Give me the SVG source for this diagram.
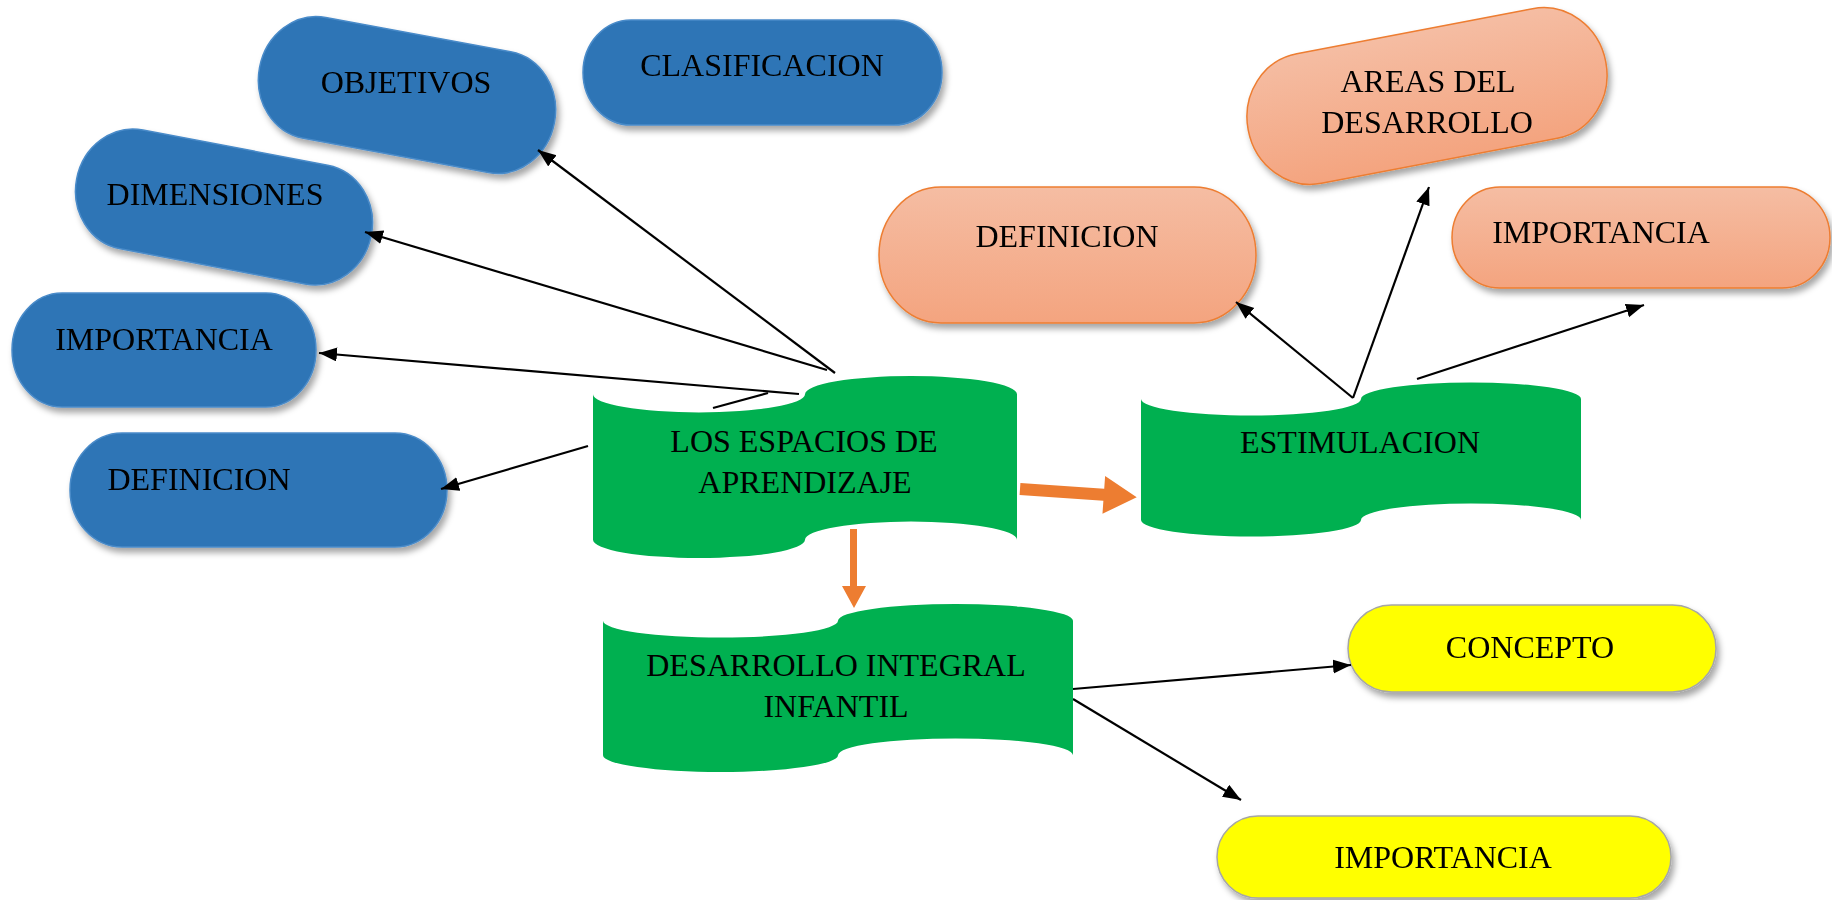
<svg xmlns="http://www.w3.org/2000/svg" width="1832" height="900" viewBox="0 0 1832 900">
<defs>
<style>
text{font-family:"Liberation Serif","Times New Roman",serif;font-size:32px;fill:#000;text-anchor:middle}
.blue{fill:#2E75B6;stroke:#4A8BC9;stroke-width:1.5}
.salmon{fill:url(#sg);stroke:#ED7D31;stroke-width:1.5}
.yellow{fill:#FFFF00;stroke:#A6A6A6;stroke-width:1.5}
.green{fill:#00B050}
.con{stroke:#000;stroke-width:2.2;fill:none}
.arr{marker-end:url(#ah)}
.orange{fill:#ED7D31}
</style>
<linearGradient id="sg" x1="0" y1="0" x2="0" y2="1">
<stop offset="0" stop-color="#F5BDA3"/>
<stop offset="1" stop-color="#F4A47F"/>
</linearGradient>
<filter id="sh" x="-10%" y="-10%" width="130%" height="140%">
<feDropShadow dx="3" dy="5" stdDeviation="3" flood-color="#000" flood-opacity="0.35"/>
</filter>
<marker id="ah" markerUnits="userSpaceOnUse" markerWidth="20" markerHeight="16" refX="18" refY="7" orient="auto">
<path d="M0,0 L18,7 L0,14 Z" fill="#000"/>
</marker>
</defs>

<g id="n-objetivos" filter="url(#sh)">
<rect class="blue" x="-150" y="-61.5" width="300" height="123" rx="56" ry="61.5" transform="translate(407,95) rotate(10.5)"/>
<text x="406" y="93">OBJETIVOS</text>
</g>
<g id="n-clasificacion" filter="url(#sh)">
<rect class="blue" x="583" y="20" width="359" height="105" rx="48" ry="52.5"/>
<text x="762" y="76">CLASIFICACION</text>
</g>
<g id="n-dimensiones" filter="url(#sh)">
<rect class="blue" x="-150" y="-60.5" width="300" height="121" rx="56" ry="60.5" transform="translate(224,207) rotate(10.8)"/>
<text x="215" y="205">DIMENSIONES</text>
</g>
<g id="n-importancia-blue" filter="url(#sh)">
<rect class="blue" x="12" y="293" width="304" height="114" rx="50" ry="57"/>
<text x="164" y="350">IMPORTANCIA</text>
</g>
<g id="n-definicion-blue" filter="url(#sh)">
<rect class="blue" x="70" y="433" width="377" height="114" rx="52" ry="57"/>
<text x="199" y="490">DEFINICION</text>
</g>

<g id="n-areas" filter="url(#sh)">
<rect class="salmon" x="-182" y="-66" width="364" height="132" rx="62" ry="66" transform="translate(1427,96) rotate(-10.8)"/>
<text x="1428" y="92">AREAS DEL</text>
<text x="1427" y="133">DESARROLLO</text>
</g>
<g id="n-definicion-salmon" filter="url(#sh)">
<rect class="salmon" x="879" y="187" width="377" height="136" rx="62" ry="68"/>
<text x="1067" y="247">DEFINICION</text>
</g>
<g id="n-importancia-salmon" filter="url(#sh)">
<rect class="salmon" x="1452" y="187" width="378" height="101" rx="48" ry="50.5"/>
<text x="1601" y="243">IMPORTANCIA</text>
</g>

<g id="n-concepto" filter="url(#sh)">
<rect class="yellow" x="1348" y="605" width="368" height="87" rx="43.5"/>
<text x="1530" y="658">CONCEPTO</text>
</g>
<g id="n-importancia-yellow" filter="url(#sh)">
<rect class="yellow" x="1217" y="816" width="454" height="82" rx="41"/>
<text x="1443" y="868">IMPORTANCIA</text>
</g>

<g id="connectors">
<line class="con arr" x1="835" y1="373" x2="538" y2="150"/>
<line class="con arr" x1="827" y1="370" x2="365" y2="232"/>
<line class="con arr" x1="799" y1="394" x2="319" y2="353"/>
<line class="con" x1="713" y1="408" x2="768" y2="393"/>
<line class="con arr" x1="588" y1="446" x2="441" y2="489"/>
<line class="con arr" x1="1353" y1="398" x2="1236" y2="302"/>
<line class="con arr" x1="1353" y1="398" x2="1429" y2="187"/>
<line class="con arr" x1="1417" y1="379" x2="1644" y2="305"/>
<line class="con arr" x1="1073" y1="689" x2="1351" y2="665"/>
<line class="con arr" x1="1073" y1="699" x2="1241" y2="800"/>
<polygon class="orange" points="0,-6 84,-6 84,-19 117,0 84,19 84,6 0,6" transform="translate(1020,489) rotate(4)"/>
<polygon class="orange" points="850,529 857,529 857,586 866,586 854,608 842,586 850,586"/>
</g>

<g id="n-espacios">
<path class="green" d="M593,394.2 A106,18.2 0 0 0 805,394.2 A106,18.2 0 0 1 1017,394.2 L1017,539.8 A106,18.2 0 0 0 805,539.8 A106,18.2 0 0 1 593,539.8 Z"/>
<text x="804" y="452">LOS ESPACIOS DE</text>
<text x="805" y="493">APRENDIZAJE</text>
</g>
<g id="n-estimulacion">
<path class="green" d="M1141,399 A110,16.5 0 0 0 1361,399 A110,16.5 0 0 1 1581,399 L1581,520 A110,16.5 0 0 0 1361,520 A110,16.5 0 0 1 1141,520 Z"/>
<text x="1360" y="453">ESTIMULACION</text>
</g>
<g id="n-desarrollo">
<path class="green" d="M603,620.8 A117.5,16.8 0 0 0 838,620.8 A117.5,16.8 0 0 1 1073,620.8 L1073,755.2 A117.5,16.8 0 0 0 838,755.2 A117.5,16.8 0 0 1 603,755.2 Z"/>
<text x="836" y="676">DESARROLLO INTEGRAL</text>
<text x="836" y="717">INFANTIL</text>
</g>
</svg>
